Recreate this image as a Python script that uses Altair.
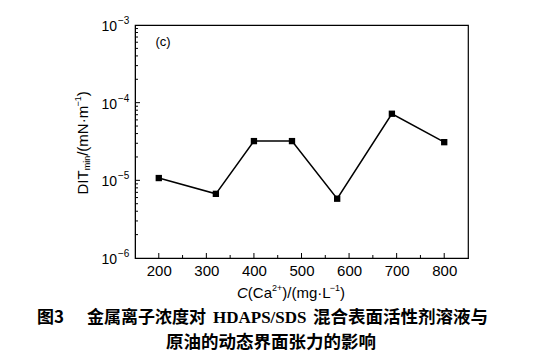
import altair as alt
import pandas as pd

# ---- data ----
conc = [200, 320, 400, 480, 575, 690, 800]
dit_min = [1.07e-5, 6.7e-6, 3.2e-5, 3.2e-5, 5.8e-6, 7.2e-5, 3.1e-5]

y_major = [1e-6, 1e-5, 1e-4, 1e-3]
y_exp = ["−6", "−5", "−4", "−3"]
y_minor = [m * d for d in (1e-6, 1e-5, 1e-4) for m in range(2, 10)]
x_major = [200, 300, 400, 500, 600, 700, 800]
x_minor = [250, 350, 450, 550, 650, 750]

panel_label = "(c)"
cap1a = "图3"
cap1b = "金属离子浓度对"
cap1c = "HDAPS/SDS"
cap1d = "混合表面活性剂溶液与"
cap2 = "原油的动态界面张力的影响"

W, H = 333, 233
FONT = "Liberation Sans"
CJK = "Noto Sans CJK SC"
OX, OY = 135, 25  # page position of the plot origin

df = pd.DataFrame({"conc": conc, "dit": dit_min})
dfy = pd.DataFrame({"v": y_major, "e": y_exp})

xscale = alt.Scale(domain=[150, 850], nice=False, zero=False)
yscale = alt.Scale(type="log", domain=[1e-6, 1e-3], nice=False)

xaxis = alt.Axis(values=x_major, tickSize=0, labelPadding=5, title="",
                 labelFontSize=15, grid=False, labelFont=FONT,
                 domainColor="black", labelColor="black")
yaxis = alt.Axis(values=y_major, tickSize=0, labels=False, title="",
                 grid=False, domainColor="black")

line = alt.Chart(df).mark_line(color="black", strokeWidth=1.5).encode(
    x=alt.X("conc:Q", scale=xscale, axis=xaxis),
    y=alt.Y("dit:Q", scale=yscale, axis=yaxis),
)
pts = alt.Chart(df).mark_point(shape="square", filled=True, color="black",
                               size=40, opacity=1).encode(
    x=alt.X("conc:Q", scale=xscale, axis=xaxis),
    y=alt.Y("dit:Q", scale=yscale, axis=yaxis),
)


def yticks(vals, length):
    d = pd.DataFrame({"v": vals})
    return alt.Chart(d).mark_rule(color="black", strokeWidth=1).encode(
        y=alt.Y("v:Q", scale=yscale, axis=yaxis),
        x=alt.value(0), x2=alt.value(length))


def xticks(vals, length):
    d = pd.DataFrame({"v": vals})
    return alt.Chart(d).mark_rule(color="black", strokeWidth=1).encode(
        x=alt.X("v:Q", scale=xscale, axis=xaxis),
        y=alt.value(H), y2=alt.value(H - length))


# y tick labels "10" with superscript exponent
ylab_base = alt.Chart(dfy).mark_text(font=FONT, fontSize=14, align="right",
                                     baseline="middle", color="black", dy=2,
                                     clip=False).encode(
    y=alt.Y("v:Q", scale=yscale, axis=yaxis), x=alt.value(-18),
    text=alt.value("10"))
ylab_exp = alt.Chart(dfy).mark_text(font=FONT, fontSize=10, align="left",
                                    baseline="middle", color="black", dy=-4,
                                    clip=False).encode(
    y=alt.Y("v:Q", scale=yscale, axis=yaxis), x=alt.value(-17),
    text="e:N")


def txt(s, x, y, size, font, weight="normal", align="center", angle=0,
        style="normal"):
    d = pd.DataFrame({"t": [s]})
    return alt.Chart(d).mark_text(font=font, fontSize=size, fontWeight=weight,
                                  align=align, baseline="middle", color="black",
                                  angle=angle, fontStyle=style,
                                  clip=False).encode(
        text="t:N", x=alt.value(x), y=alt.value(y))


# x title: C(Ca2+)/(mg·L-1)
xt_y = 293 - OY
xtitle = [
    txt("C", 102, xt_y, 15, FONT, align="left", style="italic"),
    txt("(Ca", 112.8, xt_y, 15, FONT, align="left"),
    txt("2+", 137, xt_y - 5, 9, FONT, align="left"),
    txt(")/(mg·L", 147.3, xt_y, 15, FONT, align="left"),
    txt("−1", 194.8, xt_y - 5, 9, FONT, align="left"),
    txt(")", 205.1, xt_y, 15, FONT, align="left"),
]

# y title: DIT_min/(mN·m^-1), rotated
yx = 83 - OX
ytitle = [
    txt("DIT", yx, 169.5, 15, FONT, align="left", angle=270),
    txt("min", yx + 4, 145.3, 9, FONT, align="left", angle=270),
    txt("/(mN·m", yx, 130.8, 15, FONT, align="left", angle=270),
    txt("−1", yx - 5, 81.6, 9, FONT, align="left", angle=270),
    txt(")", yx, 71.3, 15, FONT, align="left", angle=270),
]

c1y = 318 - OY
c2y = 343 - OY
layers = [
    line, pts,
    yticks(y_major[1:-1], 5), yticks(y_minor, 3),
    xticks(x_major, 5), xticks(x_minor, 3),
    ylab_base, ylab_exp,
    *xtitle, *ytitle,
    txt(panel_label, 28, 17, 13, FONT),
    txt(cap1a, 37 - OX, c1y, 17, CJK, "bold", "left"),
    txt(cap1b, 87 - OX, c1y, 17, CJK, "bold", "left"),
    txt(cap1c, 213 - OX, c1y, 17, "Liberation Serif", "bold", "left"),
    txt(cap1d, 313 - OX, c1y, 17.5, CJK, "bold", "left"),
    txt(cap2, 271 - OX, c2y, 17.5, CJK, "bold", "center"),
]

chart = alt.layer(*layers).properties(
    width=W, height=H,
    autosize=alt.AutoSizeParams(type="none"),
    padding={"left": 127, "top": 17, "right": 62, "bottom": 95},
).configure(background="white").configure_view(stroke="black", strokeWidth=1.2)

chart.save("out.html", embed_options={"renderer": "svg", "actions": False})
